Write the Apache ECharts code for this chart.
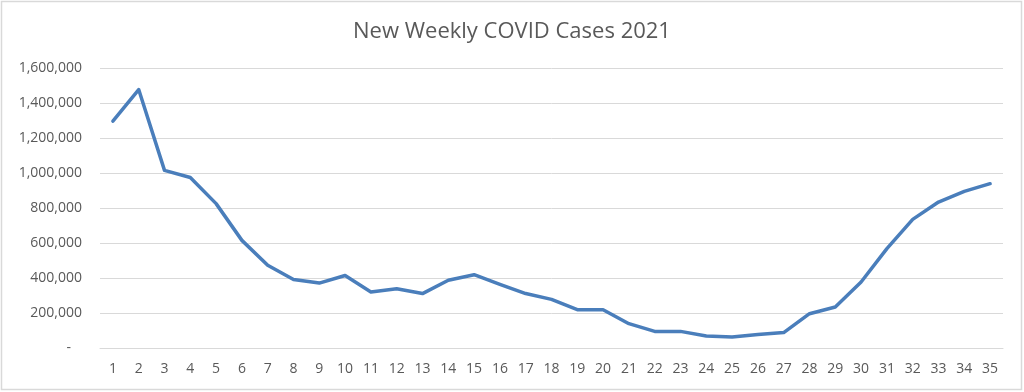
<!DOCTYPE html>
<html>
<head>
<meta charset="utf-8">
<script src="https://cdn.jsdelivr.net/npm/echarts@6/dist/echarts.min.js"></script>
<style>html,body{margin:0;padding:0;background:#fff}#c{width:1024px;height:392px}</style>
</head>
<body>
<div id="c"></div>
<script>
var title = "New Weekly COVID Cases 2021";
var weeks = ["1","2","3","4","5","6","7","8","9","10","11","12","13","14","15","16","17","18","19","20","21","22","23","24","25","26","27","28","29","30","31","32","33","34","35"];
var cases = [1297000,1477000,1015000,974000,825000,615000,473000,391000,371000,414000,320000,339000,311000,387000,419000,364000,311000,278000,219000,219000,139000,95000,95000,69000,63000,77000,88000,196000,234000,377000,568000,735000,834000,895000,939000];
var yTicks = {min: 0, max: 1600000, interval: 200000};

var chart = echarts.init(document.getElementById('c'), null, {renderer: 'canvas'});
chart.setOption({
  animation: false,
  backgroundColor: '#ffffff',
  title: {
    text: title, left: 'center', top: 16,
    textStyle: {fontFamily: 'Open Sans', fontSize: 22, fontWeight: 'normal', color: '#595959'}
  },
  graphic: [{
    type: 'rect', shape: {x: 1.5, y: 1.5, width: 1020, height: 388},
    style: {fill: 'none', stroke: '#d9d9d9', lineWidth: 1.5}, silent: true
  }],
  grid: {left: 100, right: 21, top: 68, bottom: 44, containLabel: false},
  xAxis: {
    type: 'category', data: weeks, boundaryGap: true,
    axisLine: {show: true, lineStyle: {color: '#d9d9d9', width: 1}},
    axisTick: {show: false},
    axisLabel: {color: '#595959', fontFamily: 'Open Sans', fontSize: 14, margin: 14, interval: 0}
  },
  yAxis: {
    type: 'value', min: yTicks.min, max: yTicks.max, interval: yTicks.interval,
    axisLine: {show: false}, axisTick: {show: false},
    splitLine: {lineStyle: {color: '#d9d9d9', width: 1}},
    axisLabel: {
      color: '#595959', fontFamily: 'Open Sans', fontSize: 14, margin: 18,
      formatter: function (v) { return v === 0 ? '-   ' : v.toLocaleString('en-US'); }
    }
  },
  series: [{
    type: 'line', data: cases, symbol: 'none', smooth: false,
    lineStyle: {color: '#4a7ebb', width: 3.5, cap: 'round', join: 'round'},
    itemStyle: {color: '#4a7ebb'}
  }]
});
</script>
</body>
</html>
